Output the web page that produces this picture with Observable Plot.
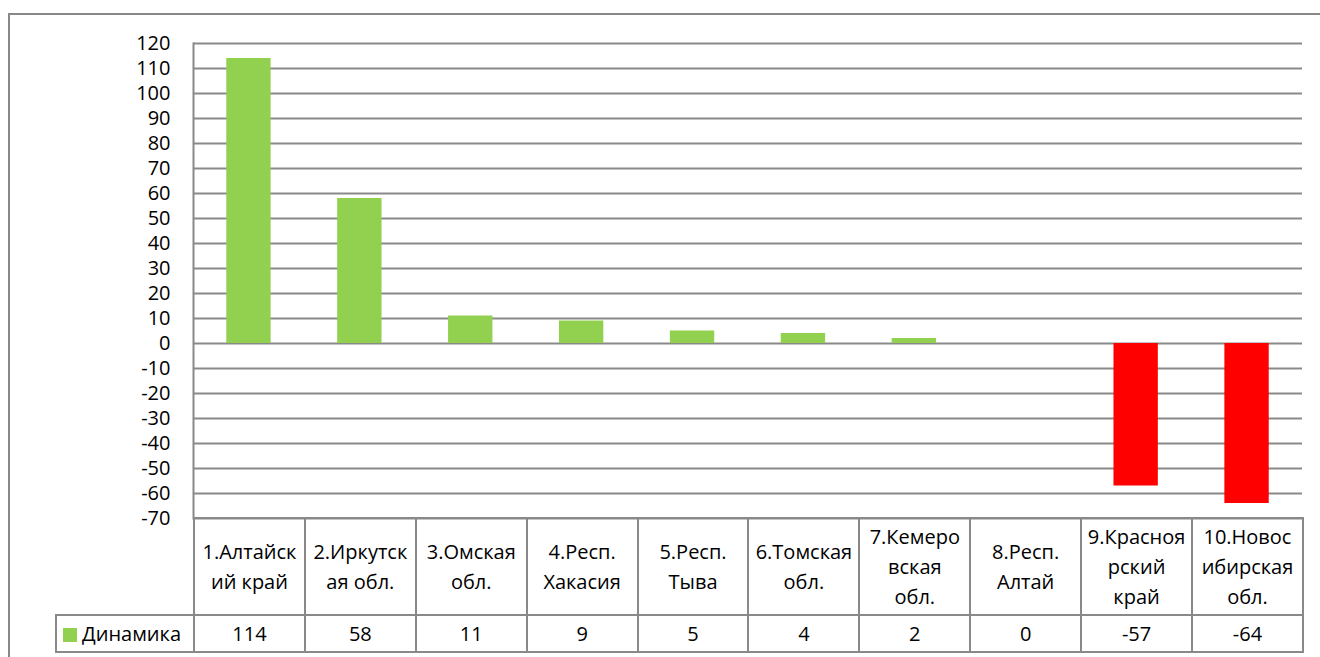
<!DOCTYPE html>
<html>
<head>
<meta charset="utf-8">
<script src="https://cdn.jsdelivr.net/npm/d3@7"></script>
<script src="https://cdn.jsdelivr.net/npm/@observablehq/plot@0.6"></script>
<style>
  html, body { margin: 0; padding: 0; background: #fff; }
  #wrap { position: relative; width: 1320px; height: 657px; overflow: hidden; font-family: "Open Sans", sans-serif; }
  #outer { position: absolute; left: 8px; top: 13px; width: 1400px; height: 800px; border: 2px solid #898989; box-sizing: border-box; }
  #chart { position: absolute; left: 0; top: 0; }
  #tbl { position: absolute; left: 55px; top: 517px; border-collapse: collapse; table-layout: fixed; font-size: 20px; color: #000; }
  #tbl td { border: 2px solid #898989; text-align: center; vertical-align: middle; padding: 0; line-height: 30px; }
  #tbl td.blank { border-left: none; border-top: none; border-bottom-color: #898989; }
  #tbl tr.cats td { height: 95px; }
  #tbl tr.vals td { height: 35px; }
  #tbl td.leg { text-align: left; padding-left: 6px; white-space: nowrap; }
  .key { display: inline-block; width: 14px; height: 14px; background: #92D050; margin-right: 5px; vertical-align: -1px; }
</style>
</head>
<body>
<div id="wrap">
  <div id="outer"></div>
  <div id="chart"></div>
  <table id="tbl"></table>
</div>
<script>
const categories = [
  "1.Алтайск\nий край",
  "2.Иркутск\nая обл.",
  "3.Омская\nобл.",
  "4.Респ.\nХакасия",
  "5.Респ.\nТыва",
  "6.Томская\nобл.",
  "7.Кемеро\nвская\nобл.",
  "8.Респ.\nАлтай",
  "9.Красноя\nрский\nкрай",
  "10.Новос\nибирская\nобл."
];
const values = [114, 58, 11, 9, 5, 4, 2, 0, -57, -64];
const seriesName = "Динамика";
const yTicks = d3.range(-70, 121, 10);

const data = categories.map((c, i) => ({cat: c, val: values[i]}));

const chart = Plot.plot({
  width: 1320,
  height: 545,
  marginTop: 43,
  marginBottom: 27,
  marginLeft: 193,
  marginRight: 18,
  style: {fontFamily: "'Open Sans', sans-serif", fontSize: "20px", color: "#000", background: "transparent", overflow: "visible"},
  x: {domain: categories, paddingInner: 0.6, paddingOuter: 0.3, round: false, axis: null},
  y: {domain: [-70, 120], ticks: yTicks, label: null},
  marks: [
    Plot.ruleY(yTicks, {stroke: "#898989", strokeWidth: 2}),
    Plot.barY(data, {x: "cat", y: "val", fill: d => d.val < 0 ? "#FF0000" : "#92D050"}),
    Plot.frame({anchor: "left", stroke: "#898989", strokeWidth: 2}),
    Plot.axisY({ticks: yTicks, tickSize: 0, tickPadding: 23, fontSize: 20, fill: "#000", label: null, tickFormat: d => String(d)})
  ]
});
document.getElementById("chart").appendChild(chart);

// data table below the plot
const tbl = document.getElementById("tbl");
const colgroup = document.createElement("colgroup");
const c0 = document.createElement("col"); c0.style.width = "138px"; colgroup.appendChild(c0);
categories.forEach(() => { const c = document.createElement("col"); c.style.width = "110.9px"; colgroup.appendChild(c); });
tbl.appendChild(colgroup);
tbl.style.width = (138 + 110.9 * categories.length) + "px";

const r1 = document.createElement("tr"); r1.className = "cats";
const b = document.createElement("td"); b.className = "blank"; r1.appendChild(b);
categories.forEach(c => {
  const td = document.createElement("td");
  c.split("\n").forEach((line, i) => {
    if (i) td.appendChild(document.createElement("br"));
    td.appendChild(document.createTextNode(line));
  });
  r1.appendChild(td);
});
tbl.appendChild(r1);

const r2 = document.createElement("tr"); r2.className = "vals";
const lg = document.createElement("td"); lg.className = "leg";
const key = document.createElement("span"); key.className = "key";
lg.appendChild(key); lg.appendChild(document.createTextNode(seriesName));
r2.appendChild(lg);
values.forEach(v => { const td = document.createElement("td"); td.textContent = String(v); r2.appendChild(td); });
tbl.appendChild(r2);
</script>
</body>
</html>
